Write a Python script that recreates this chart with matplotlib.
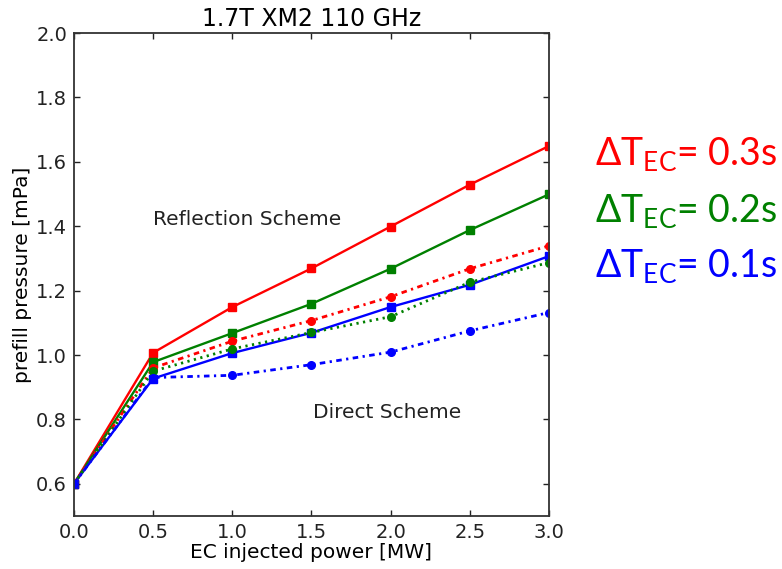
import matplotlib
matplotlib.use("Agg")
import matplotlib.pyplot as plt

power = [0.0, 0.5, 1.0, 1.5, 2.0, 2.5, 3.0]
# Reflection scheme (solid, squares)
refl_03 = [0.60, 1.007, 1.149, 1.269, 1.399, 1.529, 1.649]
refl_02 = [0.60, 0.978, 1.068, 1.159, 1.268, 1.388, 1.499]
refl_01 = [0.60, 0.927, 1.006, 1.069, 1.149, 1.218, 1.307]
# Direct scheme (dotted, circles)
dir_03 = [0.60, 0.960, 1.043, 1.107, 1.181, 1.268, 1.339]
dir_02 = [0.60, 0.950, 1.019, 1.070, 1.119, 1.226, 1.287]
dir_01 = [0.60, 0.930, 0.937, 0.970, 1.009, 1.075, 1.132]

labels = [r"$\Delta$T$_{\mathrm{EC}}$= 0.3s",
          r"$\Delta$T$_{\mathrm{EC}}$= 0.2s",
          r"$\Delta$T$_{\mathrm{EC}}$= 0.1s"]
colors = ["#ff0000", "#008000", "#0000ff"]

plt.rcParams['font.family'] = ['DejaVu Sans']
plt.rcParams['mathtext.fontset'] = 'custom'
plt.rcParams['mathtext.rm'] = 'Lato'
plt.rcParams['mathtext.it'] = 'Lato:italic'

fig = plt.figure(figsize=(7.82, 5.69), dpi=100)
fig.patch.set_facecolor("white")
ax = fig.add_axes([0.0946, 0.0931, 0.6074, 0.8489])

lw = 1.7
ms = 5.5
for ys, c in zip([refl_03, refl_02, refl_01], colors):
    ax.plot(power, ys, '-', color=c, lw=lw, marker='s', ms=ms, mec=c, mfc=c)
for ys, c, ls in zip([dir_03, dir_02, dir_01], colors,
                     [(0, (2.0, 1.6, 0.8, 1.6)), (0, (0.8, 1.6)), (0, (2.0, 1.6, 0.8, 1.6))]):
    ax.plot(power, ys, linestyle=ls, color=c, lw=2.0, marker='o', ms=ms, mec=c, mfc=c)

ax.set_xlim(0, 3.0)
ax.set_ylim(0.5, 2.0)
ax.set_xticks([0.0, 0.5, 1.0, 1.5, 2.0, 2.5, 3.0])
ax.set_yticks([0.6, 0.8, 1.0, 1.2, 1.4, 1.6, 1.8, 2.0])
ax.tick_params(direction='in', top=True, right=True, length=4, width=1,
               labelsize=14, colors='#222222', pad=5)
for s in ax.spines.values():
    s.set_linewidth(1.3)
    s.set_color('#333333')

ax.set_title("1.7T XM2 110 GHz", fontsize=17, pad=5)
ax.set_xlabel("EC injected power [MW]", fontsize=14.5, labelpad=1)
ax.set_ylabel("prefill pressure [mPa]", fontsize=14.5, labelpad=3)

ax.text(0.5, 1.422, "Reflection Scheme", fontsize=14.5, va='center', ha='left', color='#222222')
ax.text(1.51, 0.82, "Direct Scheme", fontsize=14.5, va='center', ha='left', color='#222222')

ys_txt = [165, 222, 277]
for lab, c, yb in zip(labels, colors, ys_txt):
    fig.text(595 / 782, 1 - yb / 569, lab, color=c, fontsize=27,
             family='Lato', ha='left', va='baseline')

fig.savefig("out.png", dpi=100, facecolor="white")
